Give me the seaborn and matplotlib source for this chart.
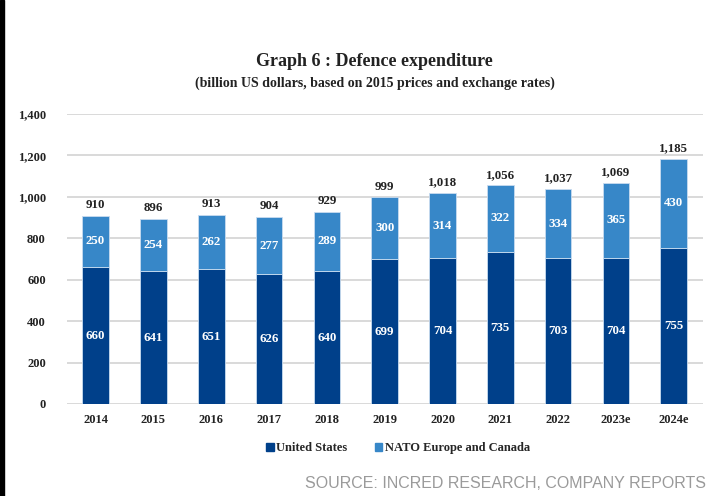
import matplotlib
matplotlib.use("Agg")
import matplotlib.pyplot as plt
import seaborn as sns
import pandas as pd
from matplotlib.patches import Rectangle, Patch

years = ["2014", "2015", "2016", "2017", "2018", "2019", "2020", "2021", "2022", "2023e", "2024e"]
us_spend = [660, 641, 651, 626, 640, 699, 704, 735, 703, 704, 755]
nato_spend = [250, 254, 262, 277, 289, 300, 314, 322, 334, 365, 430]
totals = [910, 896, 913, 904, 929, 999, 1018, 1056, 1037, 1069, 1185]
y_ticks = [0, 200, 400, 600, 800, 1000, 1200, 1400]

US_COLOR = "#00408a"
NATO_COLOR = "#3787c8"
SERIF = "Liberation Serif"

sns.set_theme(style="white")
plt.rcParams["font.family"] = [SERIF, "DejaVu Serif"]

df = pd.DataFrame({"year": years, "us": us_spend, "nato": nato_spend})

fig = plt.figure(figsize=(7.08, 4.96), dpi=100)
ax = fig.add_axes([66.7 / 708, 1 - 404 / 496, 636 / 708, 290 / 496])

for y in y_ticks:
    ax.axhline(y, color="#d9d9d9", lw=1.4, zorder=0)

sns.barplot(data=df, x="year", y="us", color=US_COLOR, saturation=1,
            width=0.46, ax=ax, zorder=2, linewidth=0.6, edgecolor="#c9dcf0")
sns.barplot(data=df, x="year", y="nato", color=NATO_COLOR, saturation=1,
            width=0.46, ax=ax, zorder=2, linewidth=0.6, edgecolor="#c9dcf0",
            bottom=df["us"].values)

ax.set_ylim(0, 1400)
ax.set_xlim(-0.5, len(years) - 0.5)
ax.set_yticks(y_ticks)
ax.set_yticklabels([f"{v:,}" for v in y_ticks])
ax.set_xlabel("")
ax.set_ylabel("")
for s in ax.spines.values():
    s.set_visible(False)
ax.tick_params(axis="y", length=0, pad=15, labelsize=9, labelcolor="#222222")
ax.tick_params(axis="x", length=0, pad=7, labelsize=9, labelcolor="#222222")
for lab in ax.get_xticklabels() + ax.get_yticklabels():
    lab.set_fontweight("bold")

for i, (u, n, t) in enumerate(zip(us_spend, nato_spend, totals)):
    ax.text(i, u / 2, f"{u}", ha="center", va="center", color="white",
            fontsize=9.3, fontweight="bold", zorder=3)
    ax.text(i, u + n / 2, f"{n}", ha="center", va="center", color="white",
            fontsize=9.3, fontweight="bold", zorder=3)
    ax.text(i, t + 22, f"{t:,}", ha="center", va="bottom", color="#222222",
            fontsize=9.3, fontweight="bold", zorder=3)

fig.text(374 / 708, 1 - 62 / 496, "Graph 6 : Defence expenditure",
         ha="center", va="center", fontsize=13, fontweight="bold", color="#222222")
fig.text(375 / 708, 1 - 83 / 496,
         "(billion US dollars, based on 2015 prices and exchange rates)",
         ha="center", va="center", fontsize=10, fontweight="bold", color="#222222")

handles = [Patch(color=US_COLOR, label="United States"),
           Patch(color=NATO_COLOR, label="NATO Europe and Canada")]
fig.legend(handles=handles, loc="center", bbox_to_anchor=(398 / 708, 1 - 448 / 496),
           ncol=2, frameon=False, handlelength=0.6, handleheight=0.6,
           handletextpad=0.2, columnspacing=2.2,
           prop={"family": SERIF, "weight": "bold", "size": 9})

fig.text(706 / 708, 1 - 483 / 496, "SOURCE: INCRED RESEARCH, COMPANY REPORTS",
         ha="right", va="center", fontsize=11.5, color="#9a9a9a",
         family="Liberation Sans")

# dark edge strip along the left border
fig.patches.append(Rectangle((0, 0), 4 / 708, 1, transform=fig.transFigure,
                             color="black", zorder=10))

fig.savefig("out.png", dpi=100)
